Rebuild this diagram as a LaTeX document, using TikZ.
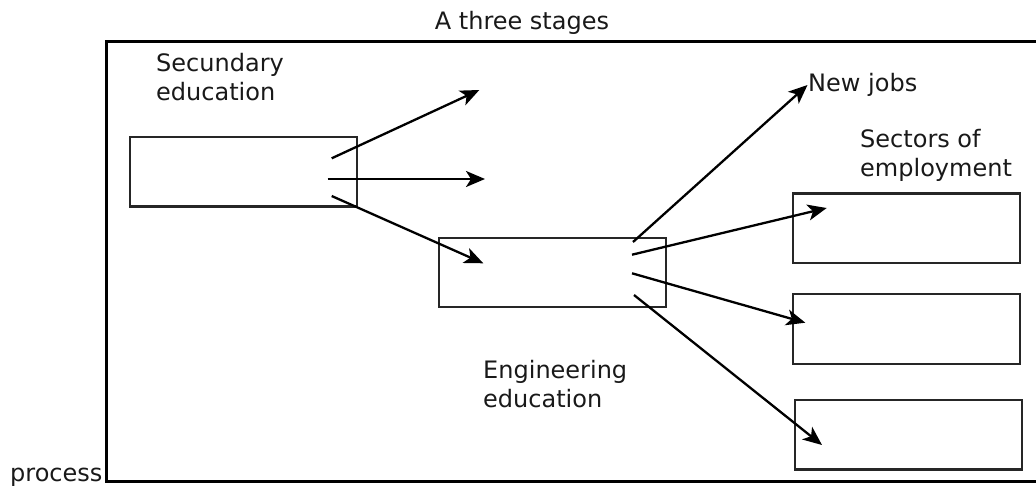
\documentclass[tikz,border=0pt]{standalone}
\usepackage{fontspec}
\setmainfont{DejaVu Sans}
\usetikzlibrary{arrows.meta}
\begin{document}
\begin{tikzpicture}[x=1pt,y=-1pt,
  stagebox/.style={draw=black!85, line width=2.3pt, inner sep=0pt,
    minimum width=227pt, minimum height=69.5pt},
  lbl/.style={font=\fontsize{24pt}{29pt}\selectfont, inner sep=0pt, align=left, text=black!90},
  flow/.style={draw=black, line width=2.3pt,
    -{Stealth[length=19pt,width=16pt,inset=5pt]}},
  frame/.style={draw=black, line width=3pt}
]
\useasboundingbox (0,0) rectangle (1036,488);

% outer frame, open on the right
\draw[frame] (1040,41) -- (106,41) -- (106,481) -- (1040,481);

% stage boxes
\node[stagebox] (sec) at (243.5,171.7) {};
\node[stagebox] (eng) at (552.3,272.4) {};
\node[stagebox] (emp1) at (906.7,228.3) {};
\node[stagebox] (emp2) at (906.7,329.0) {};
\node[stagebox] (emp3) at (908.8,434.7) {};

% labels (base anchor sits on the last line of a two-line label)
\node[lbl, anchor=base] (title) at (522,29) {A three stages};
\node[lbl, anchor=base west] (seclbl) at (156,100) {Secundary\\education};
\node[lbl, anchor=base west] (jobs) at (808,91) {New jobs};
\node[lbl, anchor=base west] (sectors) at (860,176) {Sectors of\\employment};
\node[lbl, anchor=base west] (englbl) at (483,407) {Engineering\\education};
\node[lbl, anchor=base west] (proc) at (10,481) {process};

% arrow start points inside the boxes and free ends
\coordinate (s1) at (331.7,158.3);
\coordinate (s2) at (327.7,179);
\coordinate (s3) at (331.7,196);
\coordinate (t1) at (479.3,90);
\coordinate (t2) at (485,179);
\coordinate (t3) at (483.3,263.3);

\coordinate (e1) at (633,242);
\coordinate (e2) at (632,254.7);
\coordinate (e3) at (632,273.3);
\coordinate (e4) at (634,295);
\coordinate (j1) at (807.5,85);
\coordinate (p1) at (826.7,208);
\coordinate (p2) at (805.3,322.7);
\coordinate (p3) at (822,445);

% connectors
\draw[flow] (s1) -- (t1);
\draw[flow] (s2) -- (t2);
\draw[flow] (s3) -- (t3);
\draw[flow] (e1) -- (j1);
\draw[flow] (e2) -- (p1);
\draw[flow] (e3) -- (p2);
\draw[flow] (e4) -- (p3);
\end{tikzpicture}
\end{document}
